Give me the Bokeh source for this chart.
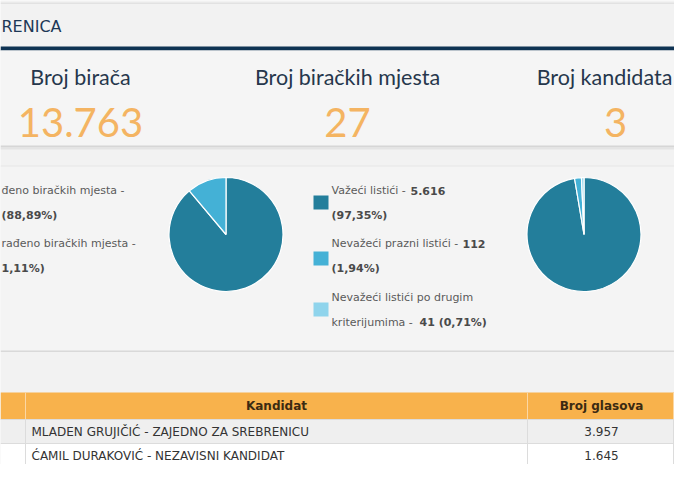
import math
from bokeh.plotting import figure
from bokeh.models import Range1d
from bokeh.core.properties import value
from bokeh.embed import file_html
from bokeh.resources import INLINE

# ---------------- data ----------------
page_title = "RENICA"
stat_titles = ["Broj birača", "Broj biračkih mjesta", "Broj kandidata"]
stat_values = ["13.763", "27", "3"]

station_labels = ["Obrađeno biračkih mjesta", "Neobrađeno biračkih mjesta"]
station_counts = [24, 3]
station_pcts = ["88,89%", "11,11%"]

ballot_labels = ["Važeći listići", "Nevažeći prazni listići", "Nevažeći listići po drugim kriterijumima"]
ballot_counts = [5616, 112, 41]
ballot_pcts = ["97,35%", "1,94%", "0,71%"]

table_headers = ["Kandidat", "Broj glasova"]
candidates = ["MLADEN GRUJIČIĆ - ZAJEDNO ZA SREBRENICU", "ĆAMIL DURAKOVIĆ - NEZAVISNI KANDIDAT"]
votes = [3957, 1645]

# ---------------- style ----------------
BG = "#f2f2f2"
NAVY = "#0f3353"
TITLE_C = "#26374c"
ORANGE_NUM = "#f4b462"
TEXT_C = "#5a5a5a"
BOLD_C = "#4a4a4a"
PIE_COLORS = ["#237e9b", "#44b1d6", "#8fd4ec"]
HEAD_ORANGE = "#f8b24c"
BODY_FONT = "DejaVu Sans"
BIG_FONT = "Lato"
W, H = 674, 464


def fmt(n):
    return f"{n:,}".replace(",", ".")


p = figure(width=W, height=H, x_range=Range1d(0, W), y_range=Range1d(H, 0),
           output_backend="svg", toolbar_location=None, min_border=0,
           x_axis_location=None, y_axis_location=None)
p.grid.visible = False
p.outline_line_color = None
p.background_fill_color = BG
p.border_fill_color = BG

# header strip
p.quad(left=[0], right=[W], top=[2], bottom=[3.5], fill_color="#e2e2e2", line_color=None)
p.text(x=[1], y=[26], text=[page_title], text_font=value("DejaVu Sans"), text_font_size="16px",
       text_color="#1d3856", text_baseline="middle", text_align="left")
p.quad(left=[0], right=[W], top=[46], bottom=[50], fill_color=NAVY, line_color=None)

# stats box
p.quad(left=[0], right=[W], top=[50], bottom=[145], fill_color="#f5f5f5", line_color=None)
p.quad(left=[0], right=[W], top=[145], bottom=[147], fill_color="#d6d6d6", line_color=None)
p.quad(left=[0], right=[W], top=[147], bottom=[149], fill_color="#e4e4e4", line_color=None)
p.text(x=[80, 347, 604], y=[76] * 3, text=stat_titles, text_font=value(BIG_FONT),
       text_font_size="21.5px", text_color=TITLE_C, text_baseline="middle", text_align="center")
p.text(x=[80, 347, 615], y=[122] * 3, text=stat_values, text_font=value(BIG_FONT),
       text_font_size="40px", text_color=ORANGE_NUM, text_baseline="middle", text_align="center")

# middle panel
p.quad(left=[0], right=[W], top=[165], bottom=[350], fill_color="#f4f4f4", line_color=None)
p.quad(left=[0], right=[W], top=[165], bottom=[166], fill_color="#e6e6e6", line_color=None)
p.quad(left=[0], right=[W], top=[350], bottom=[351.5], fill_color="#d9d9d9", line_color=None)


def pie(cx, cy, r, counts, colors):
    tot = float(sum(counts))
    cum = 0.0
    starts, ends = [], []
    for c in counts:
        a0 = cum / tot
        cum += c
        a1 = cum / tot
        starts.append(math.pi / 2 - 2 * math.pi * a1)
        ends.append(math.pi / 2 - 2 * math.pi * a0)
    n = len(counts)
    p.wedge(x=[cx] * n, y=[cy] * n, radius=r, start_angle=starts, end_angle=ends,
            direction="anticlock", fill_color=colors[:n], line_color="white", line_width=1.2)


pie(225.5, 234, 57, station_counts, [PIE_COLORS[0], PIE_COLORS[1]])
pie(583.5, 234, 57, ballot_counts, PIE_COLORS)

fs = "11px"
# left legend: only the part that the page edge leaves visible
p.text(x=[1, 1], y=[190, 243],
       text=[station_labels[0][4:] + " -", station_labels[1][4:] + " -"],
       text_font=value(BODY_FONT), text_font_size=fs, text_color=TEXT_C,
       text_baseline="middle", text_align="left")
p.text(x=[1, 1], y=[215, 268],
       text=[f"({station_pcts[0]})", f"({station_pcts[1]})"[2:]],
       text_font=value(BODY_FONT), text_font_size=fs, text_font_style="bold", text_color=BOLD_C,
       text_baseline="middle", text_align="left")

# middle legend
sq_y = [195, 251, 302]
p.quad(left=[313] * 3, right=[328] * 3, top=sq_y, bottom=[y + 14 for y in sq_y],
       fill_color=PIE_COLORS, line_color=None)
words3 = ballot_labels[2].split()
p.text(x=[331, 331, 331, 331],
       y=[190, 243, 297, 322],
       text=[ballot_labels[0] + " - ", ballot_labels[1] + " - ",
             " ".join(words3[:4]), words3[4] + " - "],
       text_font=value(BODY_FONT), text_font_size=fs, text_color=TEXT_C,
       text_baseline="middle", text_align="left")
p.text(x=[410, 331, 462, 331, 419],
       y=[190, 215, 243, 268, 322],
       text=[fmt(ballot_counts[0]), f"({ballot_pcts[0]})", fmt(ballot_counts[1]),
             f"({ballot_pcts[1]})", f"{fmt(ballot_counts[2])} ({ballot_pcts[2]})"],
       text_font=value(BODY_FONT), text_font_size=fs, text_font_style="bold", text_color=BOLD_C,
       text_baseline="middle", text_align="left")

# table
head_top, head_bot = 392, 419
row_edges = [419, 443, 464]
p.quad(left=[0], right=[W], top=[head_top], bottom=[head_bot], fill_color=HEAD_ORANGE, line_color=None)
p.quad(left=[0, 0], right=[W, W], top=row_edges[:2], bottom=row_edges[1:],
       fill_color=["#efefef", "#ffffff"], line_color=None)
p.segment(x0=[0, 0], y0=row_edges[:2], x1=[W, W], y1=row_edges[:2],
          line_color="#dcdcdc", line_width=1)
vx = [25, 527, 673]
p.segment(x0=vx, y0=[head_top] * 3, x1=vx, y1=[head_bot] * 3, line_color="#fbd7a4", line_width=1)
p.segment(x0=vx, y0=[head_bot] * 3, x1=vx, y1=[H] * 3, line_color="#dcdcdc", line_width=1)
p.text(x=[276, 601], y=[(head_top + head_bot) / 2] * 2, text=table_headers,
       text_font=value("DejaVu Sans"), text_font_size="12px", text_font_style="bold",
       text_color="#3b2a12", text_baseline="middle", text_align="center")
row_y = [(row_edges[0] + row_edges[1]) / 2, 455]
p.text(x=[31, 31], y=row_y, text=candidates, text_font=value("DejaVu Sans"),
       text_font_size="12px", text_color="#333333", text_baseline="middle", text_align="left")
p.text(x=[601, 601], y=row_y, text=[fmt(v) for v in votes], text_font=value("DejaVu Sans"),
       text_font_size="12px", text_color="#333333", text_baseline="middle", text_align="center")

open("out.html", "w").write(file_html(p, INLINE))
